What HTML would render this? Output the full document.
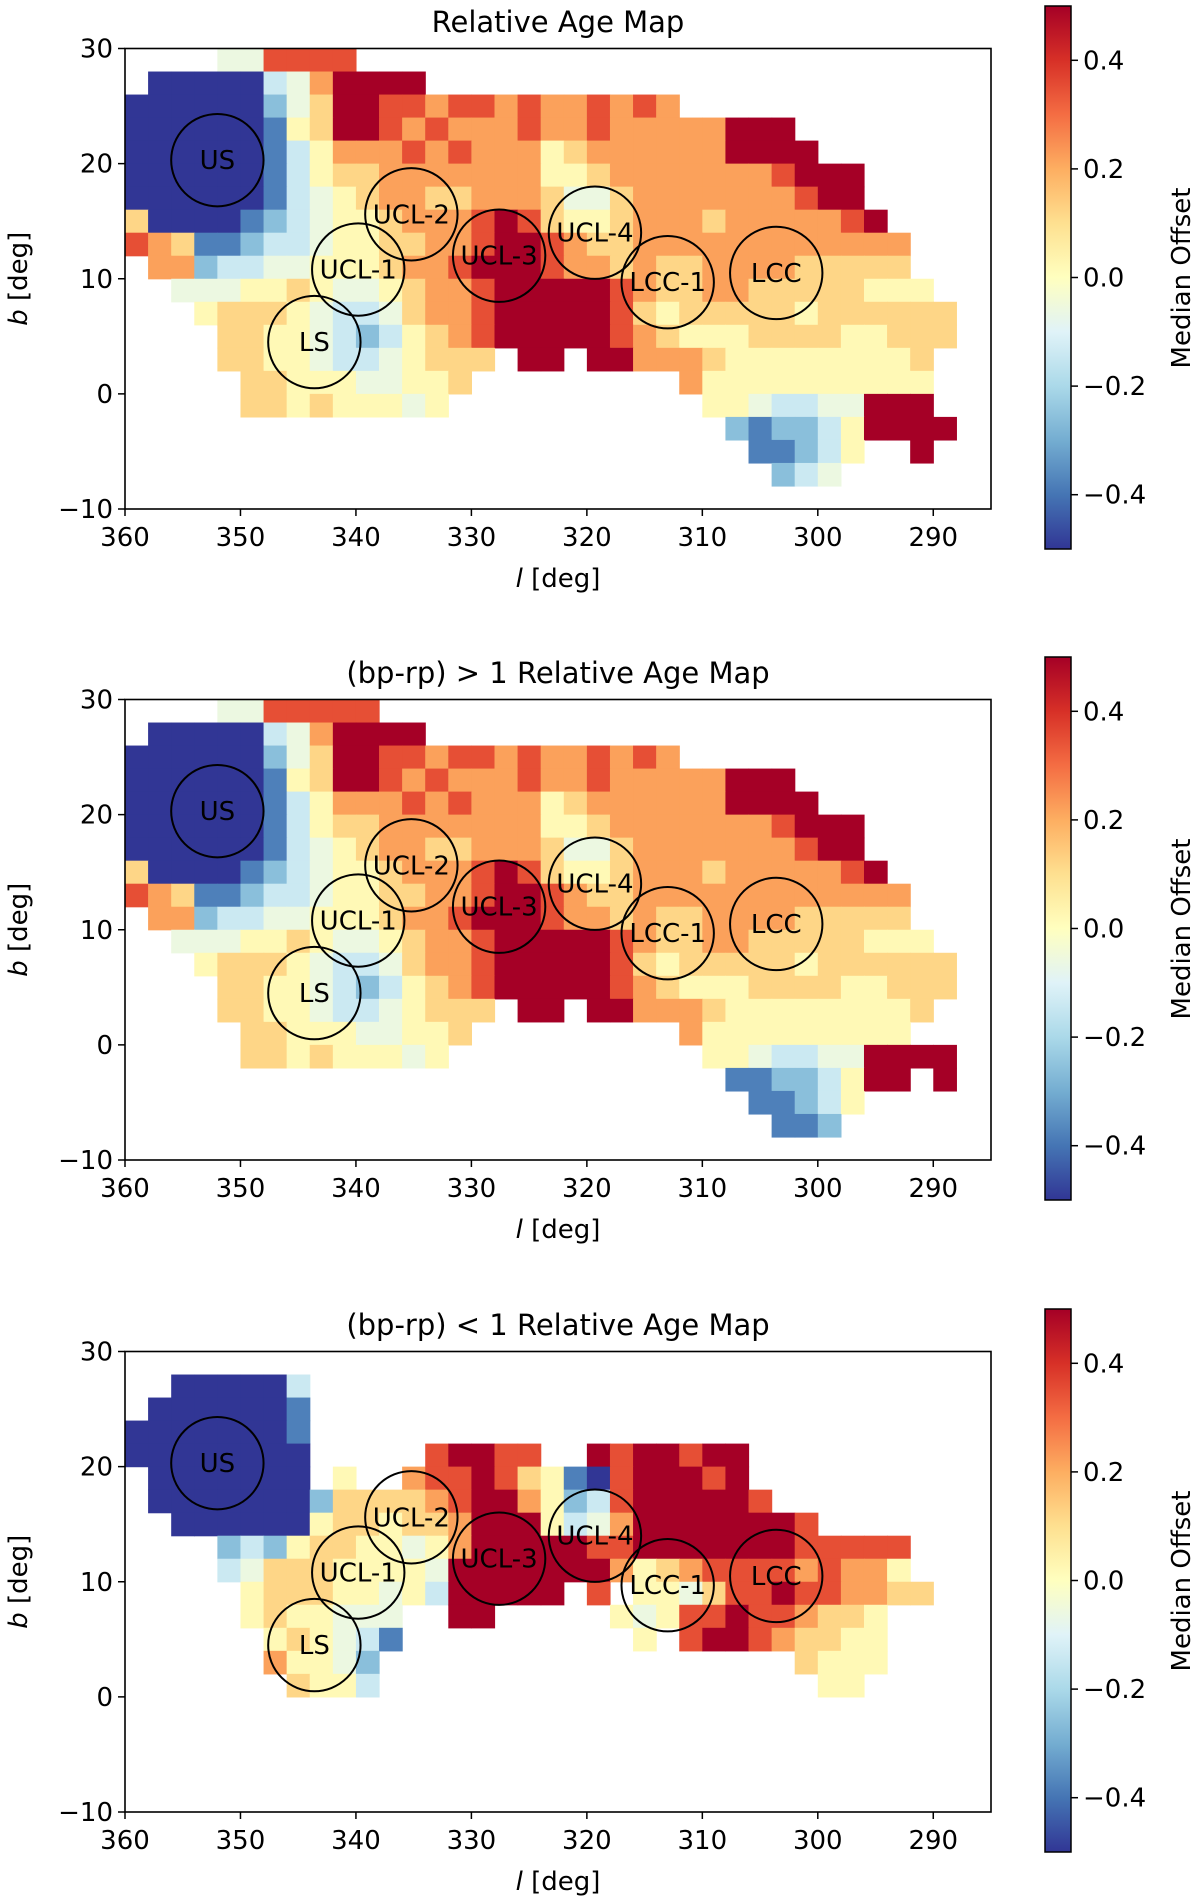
<!DOCTYPE html>
<html><head><meta charset="utf-8"><style>
html,body{margin:0;padding:0;background:#fff;width:1200px;height:1902px;overflow:hidden}
svg text{font-family:"DejaVu Sans","Liberation Sans",sans-serif;fill:#000}
</style></head><body>
<svg id="fig" width="1200" height="1902" viewBox="0 0 1200 1902" xmlns="http://www.w3.org/2000/svg">
<defs>
<linearGradient id="cbgrad" x1="0" y1="1" x2="0" y2="0">
<stop offset="0" stop-color="#313695"/><stop offset="0.1" stop-color="#4575b4"/><stop offset="0.2" stop-color="#74add1"/><stop offset="0.3" stop-color="#abd9e9"/><stop offset="0.4" stop-color="#e0f3f8"/><stop offset="0.5" stop-color="#ffffbf"/><stop offset="0.6" stop-color="#fee090"/><stop offset="0.7" stop-color="#fdae61"/><stop offset="0.8" stop-color="#f46d43"/><stop offset="0.9" stop-color="#d73027"/><stop offset="1" stop-color="#a50026"/>
</linearGradient>
</defs>
</svg>
<script>
// ---- data (2-degree cells; row 0 = b 28..30, col 0 = l 360..358; digit = index into levelValues, '.' = no data)
const cellSizeDeg = 2;
const levelValues = [-0.5, -0.38, -0.26, -0.14, -0.06, 0.02, 0.12, 0.22, 0.35, 0.5];
const panel1Rows = [
"....448888",
".000003479999",
"000000246998878878778787",
"00000015699878777877877777999",
"000000135777878777567777779999",
"00000013566777777755677777778999",
"00000013456776677764467777777899",
"600001234556777898655677767777789",
"8761123345566778998766777777777777",
".772334455567789998776766777766666",
"..444556544567789999987667766666555",
"...566654334677899999865666665666666",
"....66554323567899999876555666655666",
"....665543345666.99.997776555555556",
".....6655544556.........75555555555",
".....665655545...........5543344999.",
"..........................2122359999",
"...........................11235..9",
"............................234"
];
const panel2Rows = [
"....4488888",
".000003479999",
"000000246998878878778787",
"00000015699878777877877777999",
"000000135777878777567777779999",
"00000013566777777755677777778999",
"00000013456776677764467777777899",
"600001234556777898655677767777789",
"8761123345566778998766777777777777",
".772334455567789998776766777766666",
"..444556544567789999987667766666555",
"...566654334677899999865666665666666",
"....66554323567899999876555666655666",
"....665543345666.99.997776555555556",
".....6655544556.........7555555555",
".....665655545...........55433449999",
"..........................11223599.9",
"...........................11235",
"............................112"
];
const panel3Rows = [
"",
"..000003",
".0000001",
"00000001",
"00000000.....89988..9899899",
".0000000.5..788986510899989",
".000000026666789975238999998",
"..0000005665667999534799999998",
"....232566554579999988999999988888",
"....346665555499999997567888878775",
".....56665545399999 8.5546889887766",
".....5655444..99.....545889887665",
"......565431..........5.899876655",
"......75542..................6555",
".......6553...................55"
];
const regionNames = ["US","UCL-2","UCL-1","LS","UCL-3","UCL-4","LCC-1","LCC"];
const regionL = [352, 335.2, 339.8, 343.6, 327.6, 319.3, 313.0, 303.6];
const regionB = [20.3, 15.6, 10.8, 4.5, 12.0, 14.0, 9.7, 10.5];
const regionRadiusDeg = 4;
const xTicks = [360,350,340,330,320,310,300,290];
const yTicks = [30,20,10,0,-10];
const cbTicks = [0.4,0.2,0.0,-0.2,-0.4];
const titles = ["Relative Age Map","(bp-rp) > 1 Relative Age Map","(bp-rp) < 1 Relative Age Map"];

const NS = "http://www.w3.org/2000/svg";
const svg = document.getElementById('fig');
const stops = [[49,54,149],[69,117,180],[116,173,209],[171,217,233],[224,243,248],[255,255,191],[254,224,144],[253,174,97],[244,109,67],[215,48,39],[165,0,38]];
function cmap(v){ let t=(v+0.5); t=Math.max(0,Math.min(1,t)); const p=t*10; const i=Math.min(9,Math.floor(p)); const f=p-i;
  const a=stops[i], b=stops[i+1]; return 'rgb('+a.map((c,k)=>Math.round(c+(b[k]-c)*f)).join(',')+')'; }
function mk(tag, attrs, parent){ const e=document.createElementNS(NS,tag); for(const k in attrs) e.setAttribute(k,attrs[k]); (parent||svg).appendChild(e); return e; }
function fmt(v){ const s=v.toFixed(1); return v<0 ? '\u2212'+s.slice(1) : s; }

const panelOffsets = [0,651,1303];
const AX = {left:125, right:991, top:48.5, bottom:509};
const lMax=360, lMin=285, bMin=-10, bMax=30;
const allRows = [panel1Rows, panel2Rows, panel3Rows];

allRows.forEach((rows, p) => {
  const oy = panelOffsets[p];
  const g = mk('g', {});
  
  
  const xs = l => AX.left + (lMax - l) / (lMax - lMin) * (AX.right - AX.left);
  const ys = b => oy + AX.top + (bMax - b) / (bMax - bMin) * (AX.bottom - AX.top);

  const title = mk('text', {x:(AX.left+AX.right)/2, y:oy+32, 'text-anchor':'middle', 'font-size':29}, g);
  title.textContent = titles[p];
  
  

  const cells = mk('g', {}, g);
  
  
  rows.forEach((row, j) => {
    for (let k = 0; k < row.length; k++) {
      const ch = row[k];
      if (ch < '0' || ch > '9') continue;
      const v = levelValues[+ch];
      const l0 = lMax - k*cellSizeDeg, l1 = l0 - cellSizeDeg;
      const b0 = bMax - j*cellSizeDeg, b1 = b0 - cellSizeDeg;
      if (l0 <= lMin) continue;
      const x0 = xs(l0), x1 = xs(Math.max(l1, lMin)), y0 = ys(b0), y1 = ys(Math.max(b1,bMin));
      const r = mk('rect', {x:x0, y:y0, width:x1-x0+0.6, height:y1-y0+0.6, fill:cmap(v)}, cells);
      
      
    }
  });

  const frame = mk('rect', {x:AX.left, y:oy+AX.top, width:AX.right-AX.left, height:AX.bottom-AX.top, fill:'none', stroke:'#000', 'stroke-width':1.6}, g);
  
  

  regionNames.forEach((nm, i) => {
    const cx = xs(regionL[i]), cy = ys(regionB[i]);
    const rr = xs(lMax - regionRadiusDeg) - xs(lMax);
    const c = mk('circle', {cx:cx, cy:cy, r:rr, fill:'none', stroke:'#000', 'stroke-width':2}, g);
    
    
    const t = mk('text', {x:cx, y:cy+9, 'text-anchor':'middle', 'font-size':26}, g);
    t.textContent = nm;
    
    
  });

  xTicks.forEach(v => {
    const x = xs(v);
    const tk = mk('line', {x1:x, x2:x, y1:oy+AX.bottom, y2:oy+AX.bottom+7, stroke:'#000', 'stroke-width':1.5}, g);
    
    
    const t = mk('text', {x:x, y:oy+AX.bottom+37, 'text-anchor':'middle', 'font-size':26}, g);
    t.textContent = fmt(v).replace('.0','');
    
    
  });
  yTicks.forEach(v => {
    const y = ys(v);
    const tk = mk('line', {x1:AX.left-7, x2:AX.left, y1:y, y2:y, stroke:'#000', 'stroke-width':1.5}, g);
    
    
    const t = mk('text', {x:AX.left-12, y:y+9, 'text-anchor':'end', 'font-size':26}, g);
    t.textContent = fmt(v).replace('.0','');
    
    
  });

  const xl = mk('text', {x:(AX.left+AX.right)/2, y:oy+587, 'text-anchor':'middle', 'font-size':26}, g);
  xl.innerHTML = '<tspan font-style="italic">l</tspan> [deg]';
  
  
  const yl = mk('text', {x:0, y:0, 'text-anchor':'middle', 'font-size':26, transform:'translate(27,'+(oy+(AX.top+AX.bottom)/2)+') rotate(-90)'}, g);
  yl.innerHTML = '<tspan font-style="italic">b</tspan> [deg]';
  
  

  const cbTop = oy + 6, cbBot = oy + 549, cbL = 1045, cbR = 1071;
  const cb = mk('rect', {x:cbL, y:cbTop, width:cbR-cbL, height:cbBot-cbTop, fill:'url(#cbgrad)', stroke:'#000', 'stroke-width':1.5}, g);
  
  
  const cy = v => cbTop + (0.5 - v) * (cbBot - cbTop);
  cbTicks.forEach(v => {
    const y = cy(v);
    const tk = mk('line', {x1:cbR, x2:cbR+7, y1:y, y2:y, stroke:'#000', 'stroke-width':1.5}, g);
    
    
    const t = mk('text', {x:cbR+12, y:y+9, 'font-size':26}, g);
    t.textContent = fmt(v);
    
    
  });
  const cl = mk('text', {x:0, y:0, 'text-anchor':'middle', 'font-size':26, transform:'translate(1190,'+(oy+278)+') rotate(-90)'}, g);
  cl.textContent = 'Median Offset';
  
  
});
</script>
</body></html>
